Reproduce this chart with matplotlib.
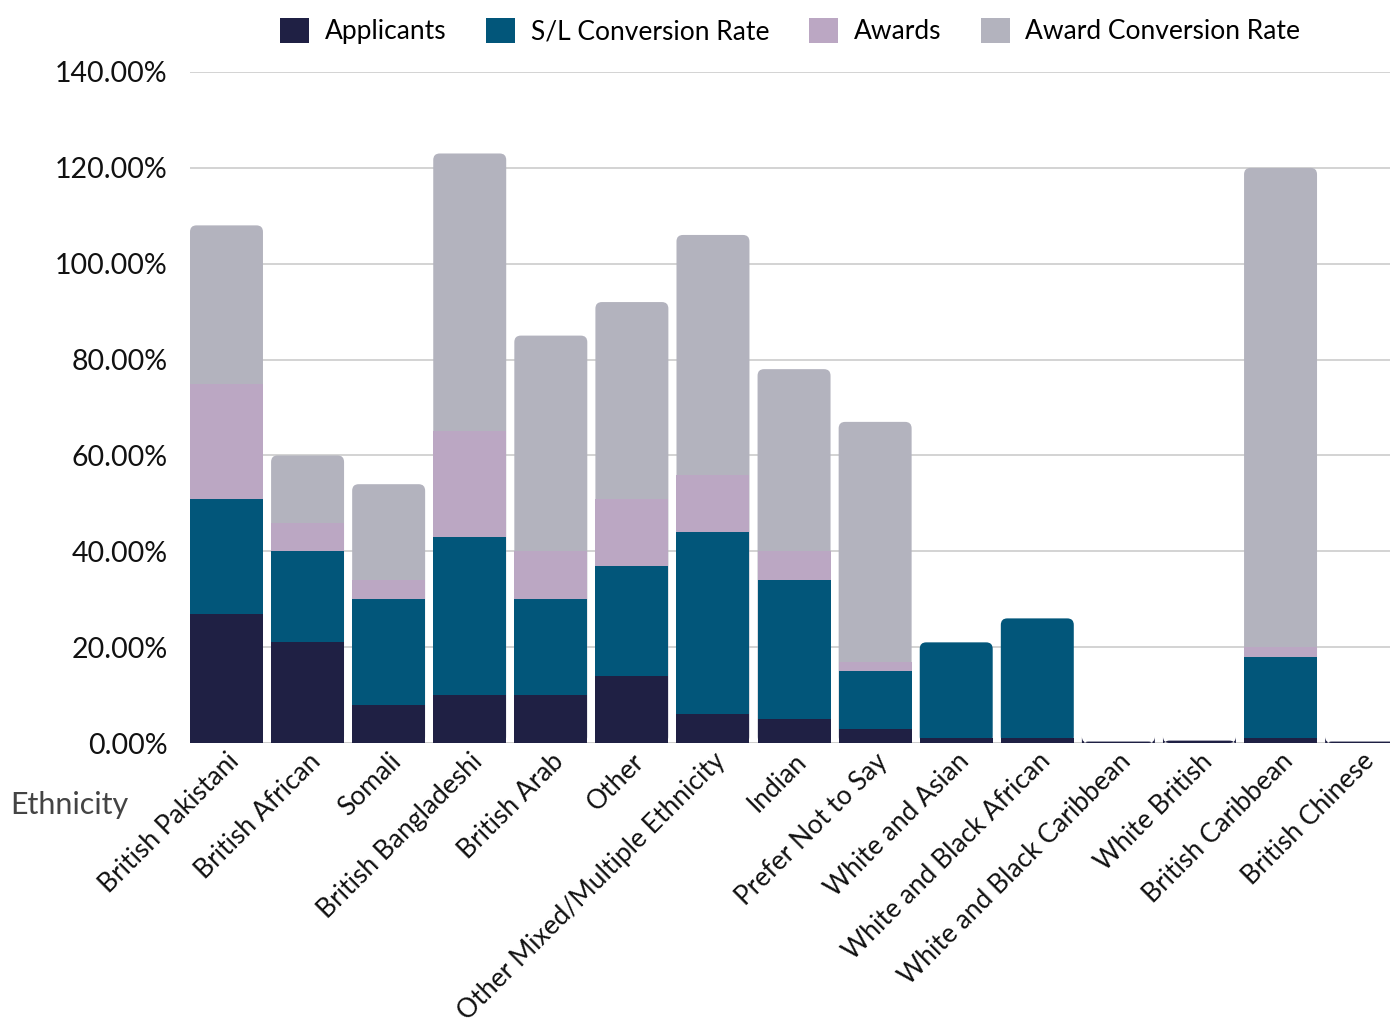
import matplotlib
matplotlib.use("Agg")
import matplotlib.pyplot as plt
from matplotlib.patches import FancyBboxPatch, Patch
from matplotlib.ticker import FuncFormatter
import numpy as np

plt.rcParams['font.family'] = ['Lato', 'DejaVu Sans']

etnias = ["British Pakistani", "British African", "Somali", "British Bangladeshi",
          "British Arab", "Other", "Other Mixed/Multiple Ethnicity", "Indian",
          "Prefer Not to Say", "White and Asian", "White and Black African",
          "White and Black Caribbean", "White British", "British Caribbean",
          "British Chinese"]

# percentuais empilhados por etnia
applicants = [27, 21, 8, 10, 10, 14, 6, 5, 3, 1, 1, 0.3, 0.5, 1, 0.3]
sl_conversion = [24, 19, 22, 33, 20, 23, 38, 29, 12, 20, 25, 0, 0, 17, 0]
awards = [24, 6, 4, 22, 10, 14, 12, 6, 2, 0, 0, 0, 0, 2, 0]
award_conversion = [33, 14, 20, 58, 45, 41, 50, 38, 50, 0, 0, 0, 0, 100, 0]

series = [applicants, sl_conversion, awards, award_conversion]
nomes = ["Applicants", "S/L Conversion Rate", "Awards", "Award Conversion Rate"]
cores = ["#1f2044", "#02567a", "#bba7c3", "#b3b3be"]

fig = plt.figure(figsize=(13.9, 10.28), dpi=100)
ax = fig.add_axes([190/1390, 1 - 743/1028, 1 - 190/1390, (743 - 72)/1028])

x = np.arange(len(etnias))
largura = 0.9
dados = np.array(series, dtype=float)
totais = dados.sum(axis=0)

# a serie do topo de cada barra vira uma caixa arredondada do zero ate o total
topo = [max(j for j in range(4) if dados[j, i] > 0) for i in range(len(etnias))]
for i in range(len(etnias)):
    caixa = FancyBboxPatch((x[i] - largura/2, 0), largura, totais[i],
                           boxstyle="round,pad=0,rounding_size=0.08",
                           mutation_aspect=17, facecolor=cores[topo[i]],
                           edgecolor="none", zorder=2)
    ax.add_patch(caixa)

base = np.zeros(len(etnias))
for j, valores in enumerate(dados):
    alturas = np.where(np.array(topo) == j, 0, valores)
    ax.bar(x, alturas, largura, bottom=base, color=cores[j], zorder=3)
    base += valores

ax.set_xlim(-0.45, 14.35)
ax.set_ylim(0, 140)
ax.set_yticks(np.arange(0, 141, 20))
ax.yaxis.set_major_formatter(FuncFormatter(lambda v, p: f"{v:.2f}%"))
ax.grid(axis="y", color="#cccccc", linewidth=1.2, zorder=0)
ax.axhline(0, color="#cccccc", linewidth=1.2, zorder=1)
for s in ax.spines.values():
    s.set_visible(False)
ax.tick_params(axis="y", length=0, labelsize=20.5, colors="#111111", pad=16)
ax.tick_params(axis="x", length=0, labelsize=19, colors="#111111", pad=4)

ax.set_xticks(x)
ax.set_xticklabels(etnias, rotation=45, ha="right", rotation_mode="anchor")

fig.text(10/1390, 1 - 805/1028, "Ethnicity", fontsize=22, color="#444444",
         va="center", ha="left")

handles = [Patch(facecolor=c, label=n) for c, n in zip(cores, nomes)]
fig.legend(handles=handles, loc="center", bbox_to_anchor=(790/1390, 1 - 31/1028),
           ncol=4, frameon=False, fontsize=19, handlelength=1.1, handleheight=1.1,
           columnspacing=1.5, handletextpad=0.6)

fig.savefig("out.png", dpi=100)
